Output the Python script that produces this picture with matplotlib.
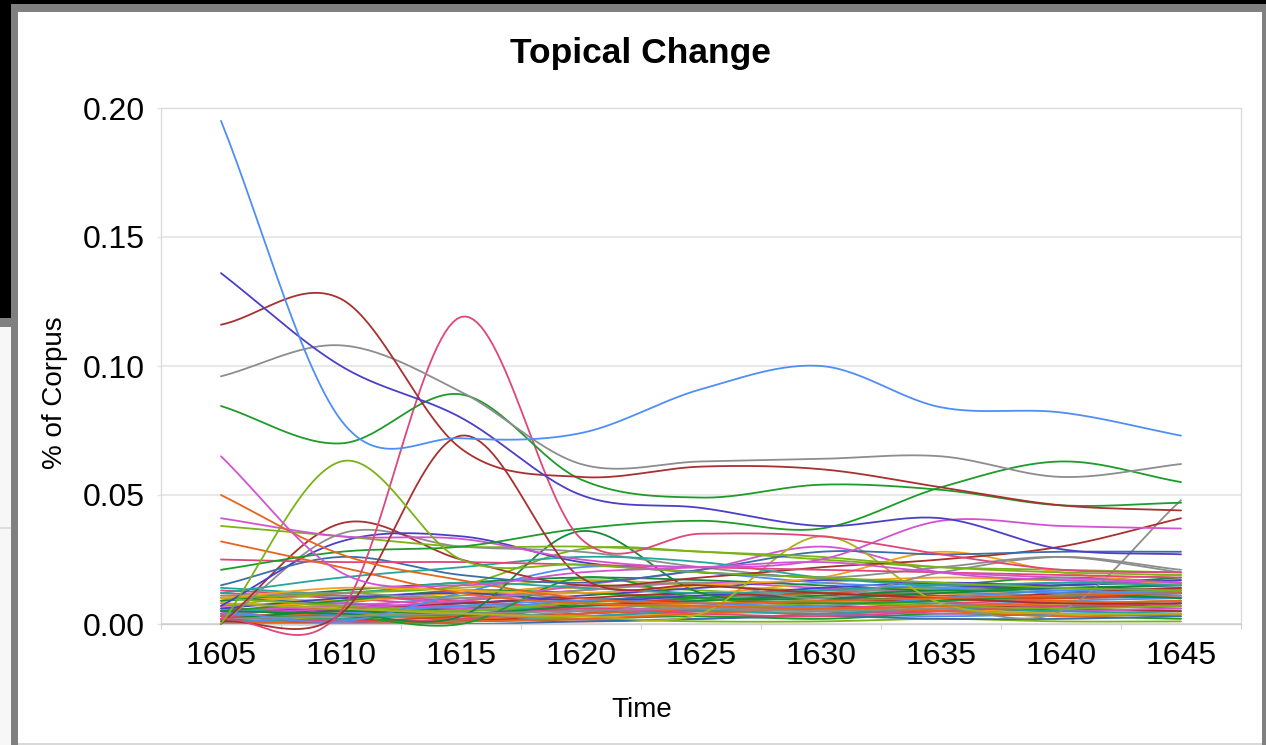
import numpy as np
import matplotlib
matplotlib.use("Agg")
import matplotlib.pyplot as plt
from matplotlib.patches import Rectangle

plt.rcParams['font.family'] = ['Liberation Sans', 'DejaVu Sans']

years = [1605, 1610, 1615, 1620, 1625, 1630, 1635, 1640, 1645]
yticks = [0.00, 0.05, 0.10, 0.15, 0.20]
title = "Topical Change"
xlabel = "Time"
ylabel = "% of Corpus"

palette = ["#4f8ef5", "#4b3fc7", "#a8302e", "#8d8d8d", "#1e9b2a", "#d253d2",
           "#e8641e", "#7ab317", "#e0457b", "#26a69a", "#f4a11a", "#b0b01a",
           "#3a6ea8", "#dc3f1e", "#138a3a"]

# prominent series (value per year), colour index
main_series = [
    ([0.195, 0.079, 0.072, 0.074, 0.091, 0.100, 0.084, 0.082, 0.073], 0),
    ([0.136, 0.100, 0.080, 0.050, 0.045, 0.038, 0.041, 0.029, 0.027], 1),
    ([0.116, 0.126, 0.068, 0.057, 0.061, 0.060, 0.053, 0.046, 0.044], 2),
    ([0.096, 0.108, 0.090, 0.062, 0.063, 0.064, 0.065, 0.057, 0.062], 3),
    ([0.0845, 0.070, 0.089, 0.056, 0.049, 0.054, 0.052, 0.046, 0.047], 4),
    ([0.065, 0.020, 0.015, 0.020, 0.022, 0.024, 0.020, 0.018, 0.016], 5),
    ([0.050, 0.027, 0.017, 0.010, 0.008, 0.009, 0.010, 0.011, 0.012], 6),
    ([0.000, 0.063, 0.025, 0.023, 0.020, 0.018, 0.016, 0.014, 0.013], 7),
    ([0.002, 0.005, 0.119, 0.033, 0.035, 0.034, 0.027, 0.021, 0.020], 8),
    ([0.001, 0.004, 0.073, 0.018, 0.015, 0.012, 0.010, 0.008, 0.008], 2),
    ([0.021, 0.028, 0.030, 0.037, 0.040, 0.037, 0.053, 0.063, 0.055], 4),
    ([0.041, 0.034, 0.033, 0.025, 0.022, 0.025, 0.040, 0.038, 0.037], 5),
    ([0.032, 0.022, 0.012, 0.008, 0.007, 0.006, 0.007, 0.008, 0.009], 6),
    ([0.025, 0.024, 0.024, 0.023, 0.022, 0.021, 0.020, 0.019, 0.018], 8),
    ([0.038, 0.034, 0.030, 0.030, 0.028, 0.026, 0.022, 0.020, 0.019], 7),
    ([0.012, 0.018, 0.022, 0.026, 0.024, 0.018, 0.015, 0.016, 0.015], 9),
    ([0.015, 0.026, 0.019, 0.016, 0.021, 0.028, 0.027, 0.028, 0.028], 12),
    ([0.007, 0.032, 0.034, 0.024, 0.020, 0.018, 0.015, 0.014, 0.013], 1),
    ([0.000, 0.039, 0.025, 0.015, 0.018, 0.022, 0.025, 0.030, 0.041], 2),
    ([0.000, 0.035, 0.030, 0.028, 0.022, 0.018, 0.022, 0.026, 0.020], 3),
    ([0.008, 0.006, 0.004, 0.003, 0.004, 0.034, 0.008, 0.004, 0.004], 11),
    ([0.010, 0.014, 0.013, 0.012, 0.015, 0.018, 0.028, 0.020, 0.015], 10),
    ([0.002, 0.003, 0.004, 0.005, 0.006, 0.005, 0.006, 0.005, 0.048], 3),
    ([0.011, 0.012, 0.010, 0.013, 0.016, 0.010, 0.020, 0.026, 0.021], 3),
    ([0.005, 0.004, 0.003, 0.036, 0.012, 0.010, 0.012, 0.014, 0.015], 14),
    ([0.010, 0.012, 0.015, 0.029, 0.028, 0.025, 0.022, 0.021, 0.020], 7),
    ([0.005, 0.001, 0.012, 0.022, 0.020, 0.016, 0.014, 0.012, 0.012], 0),
    ([0.014, 0.012, 0.016, 0.014, 0.012, 0.013, 0.015, 0.014, 0.013], 9),
    ([0.004, 0.006, 0.009, 0.015, 0.021, 0.030, 0.020, 0.017, 0.016], 5),
    ([0.002, 0.003, 0.000, 0.018, 0.010, 0.008, 0.009, 0.011, 0.012], 4),
]

# low-level series
low_series = [
    [0.003, 0.008, 0.012, 0.010, 0.009, 0.011, 0.012, 0.010, 0.011],
    [0.000, 0.002, 0.004, 0.006, 0.008, 0.009, 0.011, 0.013, 0.014],
    [0.006, 0.005, 0.003, 0.004, 0.006, 0.007, 0.005, 0.006, 0.008],
    [0.009, 0.011, 0.008, 0.007, 0.009, 0.012, 0.014, 0.013, 0.012],
    [0.001, 0.000, 0.002, 0.008, 0.012, 0.010, 0.009, 0.011, 0.010],
    [0.012, 0.010, 0.007, 0.005, 0.004, 0.006, 0.008, 0.009, 0.007],
    [0.000, 0.001, 0.001, 0.003, 0.005, 0.004, 0.003, 0.004, 0.005],
    [0.004, 0.009, 0.011, 0.015, 0.013, 0.011, 0.012, 0.015, 0.016],
    [0.002, 0.004, 0.006, 0.005, 0.007, 0.009, 0.010, 0.008, 0.009],
    [0.008, 0.006, 0.009, 0.012, 0.010, 0.008, 0.009, 0.010, 0.011],
    [0.000, 0.003, 0.002, 0.001, 0.002, 0.004, 0.006, 0.007, 0.006],
    [0.005, 0.007, 0.010, 0.013, 0.016, 0.014, 0.013, 0.016, 0.017],
    [0.010, 0.008, 0.006, 0.009, 0.011, 0.010, 0.012, 0.011, 0.010],
    [0.003, 0.002, 0.001, 0.002, 0.003, 0.002, 0.004, 0.003, 0.002],
    [0.007, 0.012, 0.014, 0.017, 0.015, 0.013, 0.014, 0.012, 0.014],
    [0.001, 0.005, 0.007, 0.006, 0.005, 0.007, 0.009, 0.012, 0.013],
    [0.011, 0.009, 0.012, 0.014, 0.012, 0.016, 0.018, 0.017, 0.019],
    [0.000, 0.000, 0.001, 0.004, 0.006, 0.005, 0.007, 0.006, 0.005],
    [0.006, 0.004, 0.005, 0.007, 0.010, 0.009, 0.008, 0.007, 0.008],
    [0.002, 0.006, 0.008, 0.011, 0.014, 0.017, 0.016, 0.014, 0.015],
    [0.013, 0.011, 0.009, 0.006, 0.005, 0.004, 0.005, 0.004, 0.003],
    [0.004, 0.003, 0.005, 0.009, 0.008, 0.006, 0.007, 0.009, 0.010],
    [0.000, 0.002, 0.003, 0.002, 0.001, 0.001, 0.002, 0.001, 0.001],
    [0.009, 0.013, 0.016, 0.018, 0.017, 0.015, 0.013, 0.015, 0.018],
    [0.003, 0.004, 0.002, 0.004, 0.006, 0.008, 0.010, 0.009, 0.007],
    [0.000, 0.001, 0.003, 0.007, 0.010, 0.012, 0.011, 0.010, 0.012],
    [0.007, 0.008, 0.006, 0.005, 0.007, 0.006, 0.004, 0.005, 0.006],
    [0.002, 0.001, 0.000, 0.001, 0.002, 0.003, 0.002, 0.002, 0.003],
    [0.005, 0.009, 0.013, 0.012, 0.010, 0.013, 0.015, 0.018, 0.016],
    [0.001, 0.003, 0.005, 0.008, 0.007, 0.009, 0.007, 0.008, 0.009],
    [0.000, 0.000, 0.002, 0.005, 0.009, 0.013, 0.012, 0.011, 0.013],
    [0.008, 0.007, 0.004, 0.003, 0.004, 0.005, 0.006, 0.004, 0.004],
    [0.004, 0.006, 0.008, 0.010, 0.012, 0.010, 0.009, 0.012, 0.014],
    [0.001, 0.002, 0.004, 0.003, 0.005, 0.004, 0.006, 0.005, 0.004],
    [0.006, 0.010, 0.012, 0.009, 0.011, 0.014, 0.016, 0.015, 0.017],
    [0.003, 0.001, 0.002, 0.006, 0.004, 0.003, 0.005, 0.007, 0.008],
    [0.000, 0.004, 0.007, 0.009, 0.008, 0.007, 0.010, 0.013, 0.011],
    [0.010, 0.007, 0.005, 0.008, 0.006, 0.008, 0.007, 0.006, 0.007],
    [0.002, 0.005, 0.004, 0.007, 0.009, 0.011, 0.013, 0.012, 0.010],
    [0.001, 0.000, 0.001, 0.002, 0.004, 0.006, 0.005, 0.003, 0.004],
]


def smooth(xs, ys, n=30):
    """Catmull-Rom (Hermite) curve through the data points, for drawing."""
    xs = np.asarray(xs, float)
    ys = np.asarray(ys, float)
    m = np.zeros_like(ys)
    m[1:-1] = (ys[2:] - ys[:-2]) / 2.0
    m[0] = ys[1] - ys[0]
    m[-1] = ys[-1] - ys[-2]
    out_x, out_y = [], []
    t = np.linspace(0, 1, n, endpoint=False)
    h00 = 2 * t**3 - 3 * t**2 + 1
    h10 = t**3 - 2 * t**2 + t
    h01 = -2 * t**3 + 3 * t**2
    h11 = t**3 - t**2
    for i in range(len(xs) - 1):
        out_x.append(xs[i] + t * (xs[i + 1] - xs[i]))
        out_y.append(h00 * ys[i] + h10 * m[i] + h01 * ys[i + 1] + h11 * m[i + 1])
    out_x.append([xs[-1]])
    out_y.append([ys[-1]])
    return np.concatenate(out_x), np.concatenate(out_y)


W, H = 1266, 745
fig = plt.figure(figsize=(W / 100, H / 100), dpi=100)
fig.patch.set_facecolor("white")

# axes rectangle (pixel measurements)
L, R, T, B = 161, 1241, 108, 624
ax = fig.add_axes([L / W, 1 - B / H, (R - L) / W, (B - T) / H])

grid_c = "#e3e3e3"
for v in yticks:
    ax.axhline(v, color=grid_c if v > 0 else "#cfcfcf", lw=1.1, zorder=0.5)

for i, ys in enumerate(low_series):
    sx, sy = smooth(years, ys)
    ax.plot(sx, sy, color=palette[(i * 7 + 3) % len(palette)], lw=1.3,
            clip_on=False, solid_capstyle="round", zorder=2)

for ys, ci in reversed(main_series):
    sx, sy = smooth(years, ys)
    ax.plot(sx, sy, color=palette[ci], lw=1.3, clip_on=False,
            solid_capstyle="round", zorder=3)

ax.set_xlim(years[0] - 2.5, years[-1] + 2.5)
ax.set_ylim(0, 0.20)
ax.set_xticks(years)
ax.set_xticklabels([str(y) for y in years])
ax.set_xticks([y - 2.5 for y in years] + [years[-1] + 2.5], minor=True)
ax.set_yticks(yticks)
ax.set_yticklabels([f"{v:.2f}" for v in yticks])
ax.tick_params(axis="x", which="major", length=0, pad=12, labelsize=23)
ax.tick_params(axis="x", which="minor", length=3.6, width=0.8, color="#d5d5d5")
ax.tick_params(axis="y", which="major", length=2.9, width=1.0, color=grid_c,
               pad=8.6, labelsize=23)
for s in ax.spines.values():
    s.set_color("#dcdcdc")
    s.set_linewidth(1.0)
ax.spines["bottom"].set_color("#cfcfcf")

fig.text(640 / W, 1 - 53 / H, title, ha="center", va="center",
         fontsize=25.5, fontweight="bold")
fig.text(642 / W, 1 - 710 / H, xlabel, ha="center", va="center", fontsize=20)
fig.text(55 / W, 1 - 393 / H, ylabel, ha="center", va="center",
         fontsize=20, rotation=90)

# screenshot frame
def rect(x0, y0, x1, y1, color):
    fig.add_artist(Rectangle((x0 / W, 1 - y1 / H), (x1 - x0) / W, (y1 - y0) / H,
                             transform=fig.transFigure, facecolor=color,
                             edgecolor="none", zorder=10))

rect(0, 0, W, 4, "black")
rect(11, 4, W, 12, "#808080")
rect(0, 0, 11, 318, "black")
rect(0, 318, 11, 327, "#808080")
rect(0, 327, 11, H, "#f7f7f7")
rect(0, 527, 11, 529, "#dddddd")
rect(11, 4, 18, H, "#808080")
rect(1262, 12, W, H, "#808080")
rect(18, 743, 1262, H, "#d9d9d9")

fig.savefig("out.png", dpi=100)
